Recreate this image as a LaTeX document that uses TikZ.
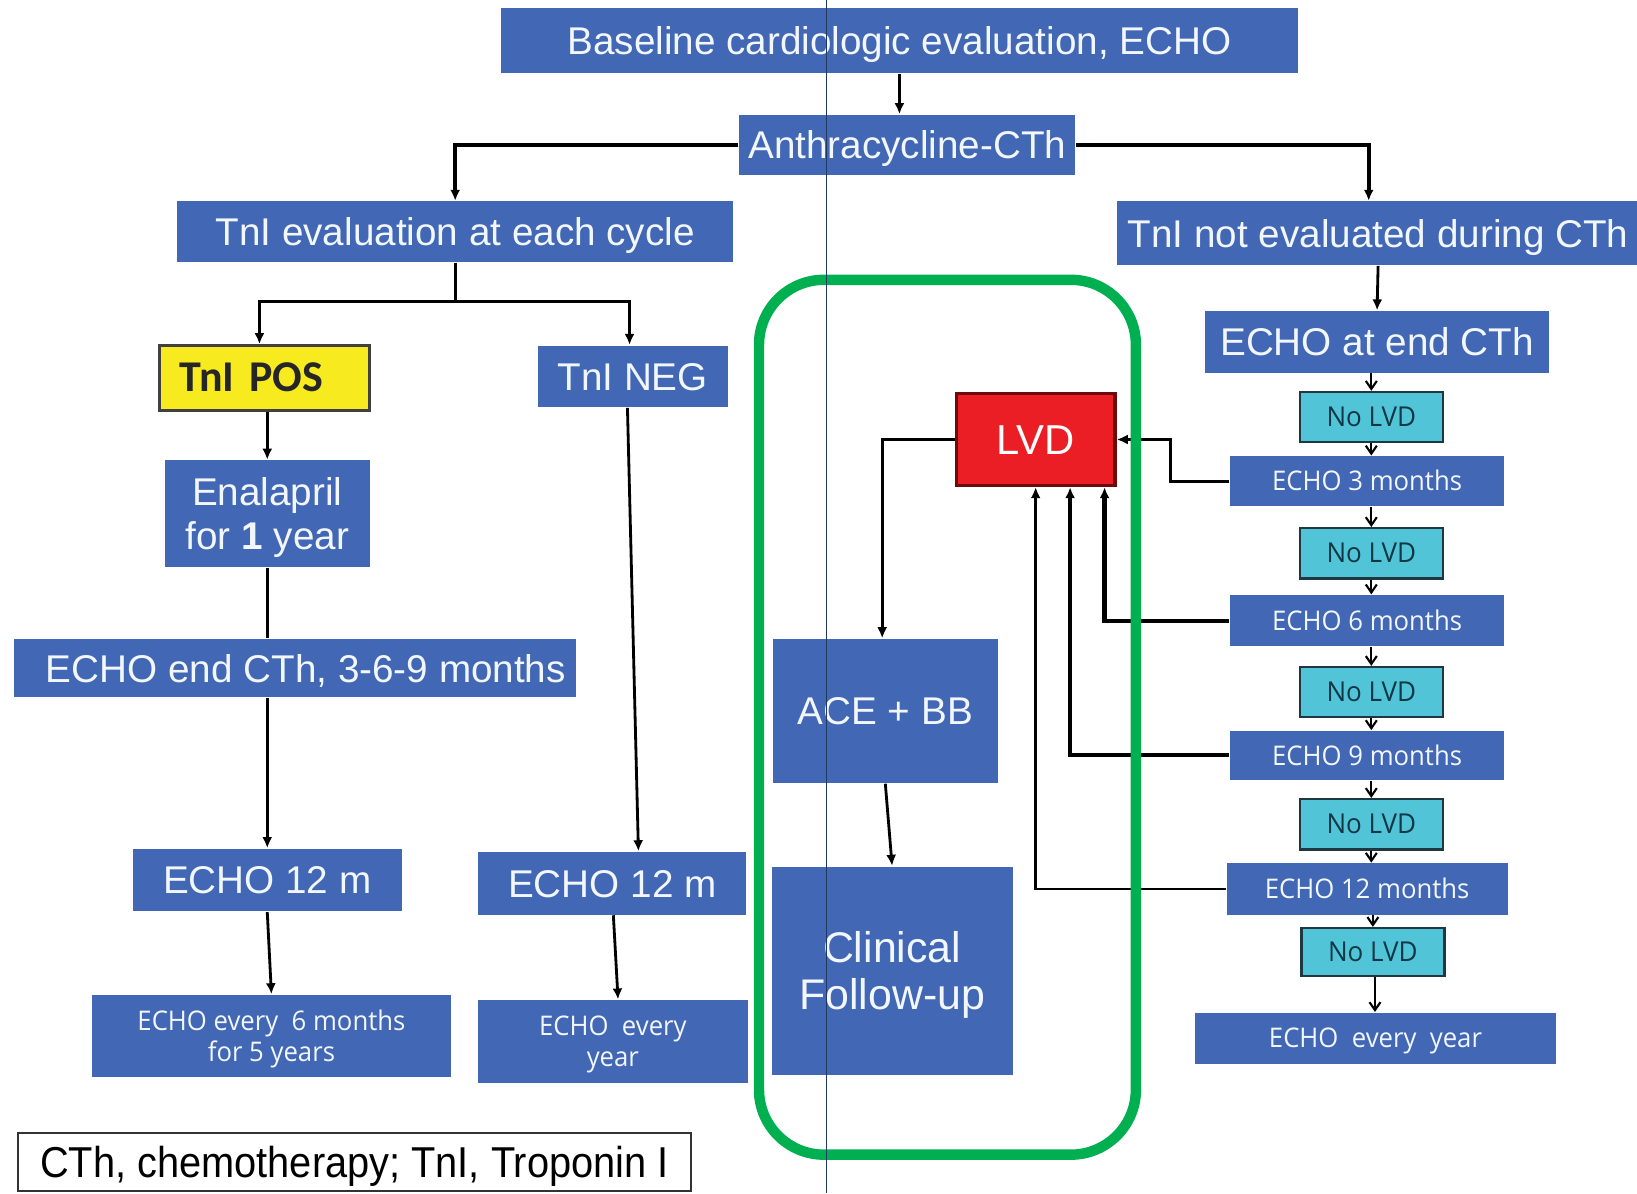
\documentclass[tikz,border=0pt]{standalone}
\usepackage{fontspec}
\setmainfont{Liberation Sans}
\newfontfamily\mnfont[FakeStretch=0.95]{Open Sans}
\newfontfamily\calfont{Carlito}
\newfontfamily\nrwfont[FakeStretch=0.92]{Liberation Sans}
\usetikzlibrary{arrows.meta,positioning}
\definecolor{boxblue}{RGB}{66,103,181}
\definecolor{boxtext}{RGB}{242,246,253}
\definecolor{lvdred}{RGB}{234,30,36}
\definecolor{lvdedge}{RGB}{110,10,10}
\definecolor{posyellow}{RGB}{247,234,30}
\definecolor{nocyan}{RGB}{82,196,216}
\definecolor{noedge}{RGB}{30,55,65}
\definecolor{notext}{RGB}{15,55,70}
\definecolor{framegreen}{RGB}{0,176,80}
\definecolor{navy}{RGB}{31,56,100}

\def\px{0.1044mm}

\tikzset{
  bbox/.style={fill=boxblue, text=boxtext, inner sep=0pt, align=center, text height=7.9pt, text depth=0pt, font=\fontsize{11}{13}\selectfont},
  mbox/.style={fill=boxblue, text=boxtext, inner sep=0pt, align=center, text height=5.5pt, text depth=0pt, font=\mnfont\fontsize{7.7}{8.9}\selectfont},
  nolvd/.style={fill=nocyan, draw=noedge, line width=0.7pt, text=notext, inner sep=0pt, text height=5.4pt, text depth=0pt, font=\mnfont\fontsize{7.8}{9}\selectfont, minimum width=137*\px, minimum height=48*\px},
  posbox/.style={fill=posyellow, draw=black!75, line width=0.8pt, inner xsep=1.98mm, inner ysep=0pt, text width=17.02mm, align=left, minimum height=62*\px, text height=8pt, text depth=0pt, text=black!85, font=\calfont\bfseries\fontsize{12.5}{14}\selectfont},
  lvdbox/.style={fill=lvdred, draw=lvdedge, line width=1pt, inner sep=0pt, minimum width=152*\px, minimum height=88*\px, text height=8.6pt, text depth=0pt, text=white, font=\fontsize{11.9}{13}\selectfont},
  lnk/.style={line width=0.8pt},
  thk/.style={line width=1.2pt},
  arr/.style={line width=0.8pt, -{Latex[length=1.1mm,width=1mm]}},
  sarr/.style={line width=0.6pt, -{Straight Barb[length=0.8mm,width=1.1mm]}},
}

\begin{document}
\begin{tikzpicture}[x=0.1044mm, y=-0.1044mm]
\useasboundingbox (0,0) rectangle (1568,1143);
%Left and top boxes
\node[bbox, minimum width=763*\px, minimum height=62*\px] (base) at (861.5,39) {Baseline cardiologic evaluation, ECHO};
\node[bbox, minimum width=322*\px, minimum height=58*\px] (anth) at (869,139) {Anthracycline-CTh};
\node[bbox, minimum width=532*\px, minimum height=58*\px] (tnieval) at (436,222) {TnI evaluation at each cycle};
\node[bbox, minimum width=500*\px, minimum height=61*\px] (tnino) at (1320,223.5) {TnI not evaluated during CTh};
\node[posbox] (tnipos) at (253.5,362) {TnI POS};
\node[bbox, minimum width=182*\px, minimum height=59*\px] (tnineg) at (606,360.5) {TnI NEG};
\node[bbox, minimum width=196*\px, minimum height=102*\px, text height=20.4pt, font=\fontsize{11}{12.5}\selectfont] (enal) at (256,492) {Enalapril\\for \textbf{1} year};
\node[bbox, inner xsep=1.044mm, text width=54.18mm, align=flush right, minimum height=56*\px] (echoend) at (282.5,640) {ECHO end CTh, 3-6-9 months};
\node[bbox, minimum width=258*\px, minimum height=60*\px] (echoa) at (256,843) {ECHO 12 m};
\node[mbox, minimum width=344*\px, minimum height=79*\px, text height=14.4pt] (sixm) at (260,992.5) {ECHO every\ \ 6 months\\for 5 years};
\node[bbox, minimum width=257*\px, minimum height=60*\px] (echob) at (586.5,846) {ECHO 12 m};
\node[mbox, minimum width=258*\px, minimum height=79*\px, text height=14.4pt] (yearb) at (587,997.5) {ECHO\ \ every\\year};
%Middle boxes
\node[lvdbox] (lvd) at (992,421) {LVD};
\node[bbox, minimum width=216*\px, minimum height=138*\px] (ace) at (848,681) {ACE + BB};
\node[bbox, minimum width=231*\px, minimum height=200*\px, text height=22.2pt, font=\fontsize{12.2}{13.4}\selectfont] (clin) at (854.5,930) {Clinical\\Follow-up};
%Right column
\node[bbox, minimum width=330*\px, minimum height=59*\px] (echoc) at (1319,327.5) {ECHO at end CTh};
\node[nolvd] (nl1) at (1313.5,399.5) {No LVD};
\node[mbox, minimum width=263*\px, minimum height=48*\px] (m3) at (1309.5,461) {ECHO 3 months};
\node[nolvd] (nl2) at (1313.5,530) {No LVD};
\node[mbox, minimum width=263*\px, minimum height=49*\px] (m6) at (1309.5,594.5) {ECHO 6 months};
\node[nolvd] (nl3) at (1313.5,663) {No LVD};
\node[mbox, minimum width=263*\px, minimum height=47*\px] (m9) at (1309.5,723.5) {ECHO 9 months};
\node[nolvd] (nl4) at (1313.5,789.5) {No LVD};
\node[mbox, minimum width=269*\px, minimum height=49*\px] (m12) at (1309.5,851.5) {ECHO 12 months};
\node[nolvd, minimum height=46*\px] (nl5) at (1315,912) {No LVD};
\node[mbox, minimum width=345*\px, minimum height=49*\px] (yearc) at (1317.5,994.5) {ECHO\ \ every\ \ year};
%Legend
\node[draw=black!80, line width=0.7pt, inner sep=0pt, minimum width=645*\px, minimum height=56*\px, text height=8.8pt, text depth=0pt, font=\nrwfont\fontsize{12.3}{14}\selectfont] (legend) at (339.5,1113) {CTh, chemotherapy; TnI, Troponin I};
%Connectors
\draw[arr] (base.south) -- (base.south |- anth.north);
\draw[arr, thk] (anth.west) -| (tnieval.north);
\draw[arr, thk] (anth.east) -| ([xshift=-9*\px]tnino.north);
\draw[arr] (tnieval.south) -- ++(0,37) -| ([xshift=-5*\px]tnipos.north);
\draw[arr] (tnieval.south) -- ++(0,37) -| ([xshift=-3*\px]tnineg.north);
\draw[arr] (tnipos.south -| enal.north) -- (enal.north);
\draw[lnk] (enal.south) -- (enal.south |- echoend.north);
\draw[arr] (enal.south |- echoend.south) -- (echoa.north);
\draw[arr] (echoa.south) -- (sixm.north);
\draw[arr] ([xshift=-5*\px]tnineg.south) -- ([xshift=25*\px]echob.north);
\draw[arr] ([xshift=1*\px]echob.south) -- ([xshift=5*\px]yearb.north);
\draw[arr] (lvd.west) -| ([xshift=-3*\px]ace.north);
\draw[arr] (ace.south) -- (clin.north);
\draw[arr] (tnino.south) -- (echoc.north);
\draw[sarr] (nl1.north |- echoc.south) -- (nl1.north);
\draw[sarr] (nl1.south) -- (nl1.south |- m3.north);
\draw[sarr] (nl2.north |- m3.south) -- (nl2.north);
\draw[sarr] (nl2.south) -- (nl2.south |- m6.north);
\draw[sarr] (nl3.north |- m6.south) -- (nl3.north);
\draw[sarr] (nl3.south) -- (nl3.south |- m9.north);
\draw[sarr] (nl4.north |- m9.south) -- (nl4.north);
\draw[sarr] (nl4.south) -- (nl4.south |- m12.north);
\draw[sarr] (nl5.north |- m12.south) -- (nl5.north);
\draw[sarr] ([xshift=2*\px]nl5.south) -- ([xshift=2*\px]nl5.south |- yearc.north);
\draw[arr] (m3.west) -- ++(-56,0) |- (lvd.east);
\draw[arr, thk] (m6.west) -| ([xshift=66*\px]lvd.south);
\draw[arr, thk] (m9.west) -| ([xshift=33*\px]lvd.south);
\draw[arr] (m12.west) -| (lvd.south);
%Frame
\draw[framegreen, line width=10*\px, rounded corners=6.5mm] (727,268) rectangle (1088,1106);
\draw[navy, line width=0.3pt] (792,0) -- (792,1143);
\end{tikzpicture}
\end{document}
